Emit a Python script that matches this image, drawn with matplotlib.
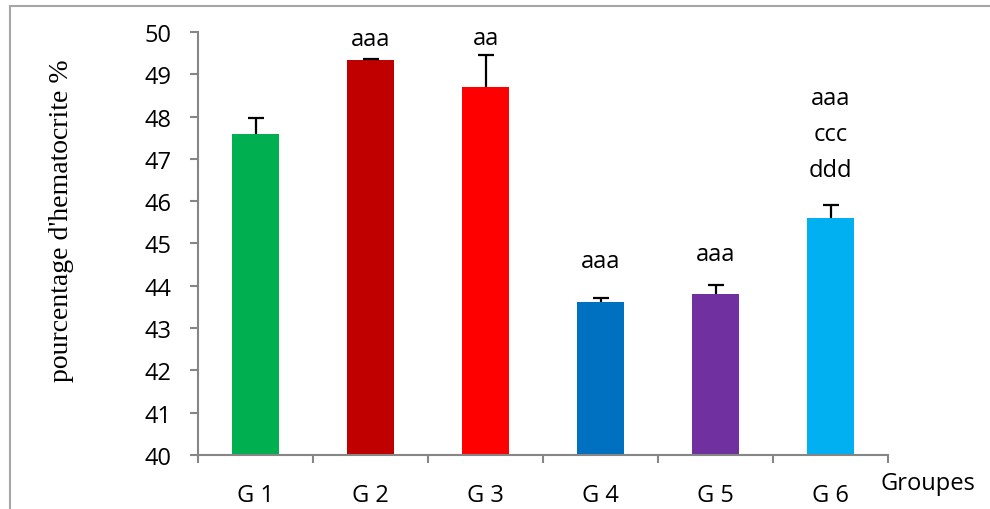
import matplotlib.pyplot as plt
from matplotlib.patches import Rectangle

# Données
groupes = ['G 1', 'G 2', 'G 3', 'G 4', 'G 5', 'G 6']
hematocrite = [47.58, 49.33, 48.71, 43.62, 43.81, 45.60]
erreurs = [0.38, 0.03, 0.74, 0.09, 0.21, 0.30]
couleurs = ['#00B050', '#C00000', '#FF0000', '#0070C0', '#7030A0', '#00B0F0']
signif = ['', 'aaa', 'aa', 'aaa', 'aaa', 'aaa\nccc\nddd']
decalage = [0, 6, 4, 18, 14, 17]  # décalage du texte au-dessus de l'erreur (points)

plt.rcParams['font.family'] = ['Open Sans', 'DejaVu Sans']

fig = plt.figure(figsize=(9.9, 5.1), dpi=100)
ax = fig.add_axes([198/990, 1-456/510, 690/990, 423/510])

x = list(range(len(groupes)))
ax.bar(x, [v - 40 for v in hematocrite], bottom=40, width=0.41, color=couleurs)
_, caps, _ = ax.errorbar(x, hematocrite, yerr=[[0]*len(erreurs), erreurs], fmt='none',
                         ecolor='black', elinewidth=1.6, capsize=6, capthick=1.6)
caps[0].set_visible(False)  # pas de barre en bas

for i, txt in enumerate(signif):
    if txt:
        ax.annotate(txt, (x[i], hematocrite[i] + erreurs[i]), xytext=(0, decalage[i]),
                    textcoords='offset points', ha='center', va='bottom',
                    fontsize=17, linespacing=1.65)

ax.set_xlim(-0.5, 5.5)
ax.set_ylim(40, 50)
ax.set_yticks(range(40, 51))
ax.set_xticks([i - 0.5 for i in range(7)])
ax.set_xticklabels([])
ax.set_xticks(x, minor=True)
ax.set_xticklabels(groupes, minor=True)

for s in ['top', 'right']:
    ax.spines[s].set_visible(False)
for s in ['left', 'bottom']:
    ax.spines[s].set_color('#868686')
    ax.spines[s].set_linewidth(1.5)

ax.tick_params(axis='y', length=6, width=1.5, color='#868686', labelsize=17, pad=13)
ax.tick_params(axis='x', which='major', length=6, width=1.5, color='#868686', direction='out')
ax.tick_params(axis='x', which='minor', length=0, labelsize=17, pad=20)

fig.text(880/990, 1-484/510, 'Groupes', fontsize=17, ha='left', va='center')
fig.text(62/990, 1-221/510, "pourcentage d'hematocrite %", rotation=90, ha='center', va='center',
         family='Liberation Serif', fontsize=20)

# cadre de la figure
fig.patches.append(Rectangle((10/990, -0.2), 1.2, 1.2 - 7/510, transform=fig.transFigure,
                             fill=False, edgecolor='#a6a6a6', linewidth=1.5))

fig.savefig('out.png', dpi=100)
